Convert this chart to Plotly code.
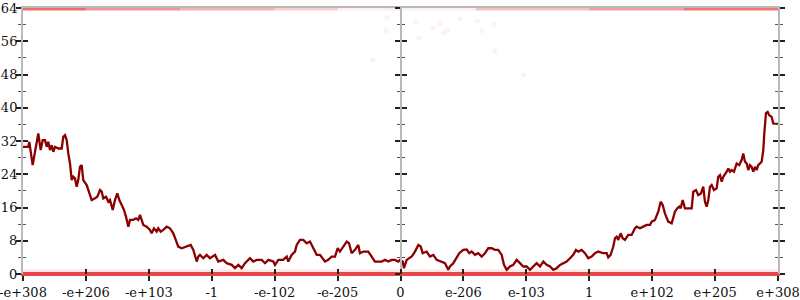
import plotly.graph_objects as go

# ---- data -------------------------------------------------------------
x_labels = ["-e+308", "-e+206", "-e+103", "-1", "-e-102", "-e-205", "0",
            "e-206", "e-103", "1", "e+102", "e+205", "e+308"]
x_ticks = list(range(len(x_labels)))
y_ticks = [0, 8, 16, 24, 32, 40, 48, 56, 64]

series_x = [
    0.0, 0.084, 0.100, 0.127, 0.154, 0.191, 0.218, 0.243, 0.281, 0.313, 0.350, 0.377,
    0.402, 0.429, 0.456, 0.482, 0.509, 0.561, 0.615, 0.640, 0.668, 0.695, 0.720, 0.747,
    0.774, 0.799, 0.826, 0.853, 0.878, 0.906, 0.933, 0.958, 1.012, 1.038, 1.092, 1.144,
    1.181, 1.224, 1.251, 1.276, 1.319, 1.356, 1.383, 1.426, 1.462, 1.499, 1.531, 1.569,
    1.605, 1.637, 1.674, 1.701, 1.753, 1.796, 1.832, 1.859, 1.887, 1.912, 1.966, 2.018,
    2.045, 2.082, 2.125, 2.150, 2.188, 2.230, 2.284, 2.336, 2.389, 2.416, 2.468, 2.522,
    2.602, 2.665, 2.707, 2.734, 2.761, 2.786,
    2.813, 2.866, 2.920, 2.972, 3.052, 3.104, 3.183, 3.237, 3.317, 3.369, 3.422, 3.476,
    3.528, 3.608, 3.660, 3.714, 3.794, 3.846, 3.899, 3.978, 4.005, 4.058, 4.137, 4.191,
    4.216, 4.270, 4.323, 4.350, 4.402, 4.455, 4.509, 4.561, 4.614, 4.668, 4.720, 4.800,
    4.852, 4.906, 4.959, 5.002, 5.038, 5.091, 5.145, 5.181, 5.224, 5.276, 5.329, 5.356,
    5.408, 5.488, 5.542, 5.594, 5.701, 5.753, 5.806, 5.860, 5.912, 5.965,
    5.992, 6.035, 6.055, 6.098, 6.178, 6.230, 6.283, 6.321, 6.353, 6.416, 6.468, 6.521,
    6.575, 6.655, 6.707, 6.759, 6.786, 6.839, 6.893, 6.934, 6.998, 7.052, 7.093, 7.131,
    7.184, 7.236, 7.290, 7.343, 7.395, 7.449, 7.502, 7.554, 7.608, 7.645, 7.688, 7.740,
    7.792, 7.846, 7.899, 7.951, 8.005, 8.058, 8.110, 8.164, 8.217, 8.269, 8.323, 8.376,
    8.428, 8.482, 8.535, 8.587, 8.641, 8.694, 8.746, 8.789, 8.825, 8.879, 8.932, 8.984,
    9.038, 9.091, 9.143,
    9.223, 9.277, 9.302, 9.340, 9.382, 9.409, 9.436, 9.461, 9.499, 9.531, 9.568, 9.620,
    9.674, 9.727, 9.754, 9.806, 9.858, 9.912, 9.965, 9.992, 10.044, 10.071, 10.097, 10.135,
    10.167, 10.203, 10.256, 10.310, 10.362, 10.399, 10.431, 10.453, 10.485, 10.521, 10.574,
    10.628, 10.653, 10.696, 10.733, 10.776, 10.812, 10.839, 10.866, 10.892, 10.919, 10.945,
    10.982, 11.025, 11.050, 11.078, 11.105, 11.130, 11.184, 11.210, 11.237, 11.263, 11.300,
    11.343, 11.384, 11.422, 11.448, 11.475, 11.502, 11.528, 11.554, 11.581, 11.607, 11.634,
    11.661, 11.686, 11.740, 11.766, 11.782, 11.809, 11.836, 11.861, 11.899, 11.925, 11.979,
    12.0,
]
series_y = [
    30.6, 30.6, 31.8, 29.0, 26.2, 29.4, 31.4, 33.8, 29.8, 32.2, 32.2, 30.6,
    31.8, 29.8, 31.0, 29.4, 30.6, 30.2, 30.2, 33.0, 33.4, 32.2, 29.0, 26.6,
    22.6, 23.4, 23.0, 21.0, 22.6, 25.8, 26.2, 22.6, 21.4, 20.2, 17.8, 18.2,
    18.6, 20.2, 19.8, 18.2, 18.6, 17.4, 17.8, 15.4, 17.8, 19.4, 17.8, 16.6,
    15.4, 13.8, 11.4, 13.0, 13.0, 13.4, 13.0, 14.2, 12.6, 11.8, 11.4, 10.6,
    9.8, 11.0, 10.2, 11.0, 10.2, 10.6, 11.4, 11.0, 9.8, 8.6, 6.6, 6.2,
    6.6, 7.0, 5.8, 4.6, 3.0, 4.2,
    4.6, 3.8, 4.6, 3.8, 4.6, 3.0, 3.4, 2.6, 2.2, 1.4, 2.2, 1.4,
    2.6, 3.8, 3.0, 3.4, 3.4, 2.6, 3.4, 3.0, 2.2, 3.4, 3.4, 4.2,
    3.0, 4.6, 5.4, 7.0, 8.2, 8.2, 7.4, 7.8, 6.2, 4.6, 4.6, 3.0,
    3.4, 4.2, 4.2, 6.2, 5.4, 6.6, 7.8, 7.4, 5.0, 5.8, 7.0, 5.0,
    5.4, 5.4, 4.2, 3.0, 3.0, 3.4, 3.0, 3.4, 3.4, 3.0,
    3.4, 3.0, 1.4, 3.4, 4.2, 5.4, 7.0, 6.6, 5.0, 5.4, 4.2, 4.6,
    3.4, 3.0, 2.6, 1.0, 1.8, 2.6, 3.8, 5.0, 5.8, 5.9, 5.0, 5.4,
    4.6, 5.0, 4.2, 5.0, 6.2, 6.2, 5.8, 5.8, 4.6, 2.2, 1.0, 1.8,
    2.2, 3.4, 2.6, 1.8, 1.8, 1.0, 1.8, 2.6, 1.8, 3.0, 2.2, 1.8,
    1.0, 1.4, 2.2, 2.6, 3.0, 3.8, 4.6, 5.8, 5.4, 5.8, 5.0, 3.8,
    4.2, 5.0, 5.4,
    5.0, 5.0, 4.0, 4.6, 6.6, 8.6, 9.0, 8.2, 9.8, 8.6, 8.2, 9.4,
    9.4, 11.0, 11.4, 11.0, 11.4, 11.8, 11.8, 12.6, 13.0, 14.2, 15.0, 17.4,
    16.6, 14.6, 12.6, 12.2, 15.0, 15.8, 16.2, 15.8, 17.8, 15.8, 15.8,
    15.8, 19.8, 20.2, 19.0, 19.4, 21.0, 17.4, 16.2, 17.8, 21.0, 21.4,
    20.2, 20.6, 23.4, 23.8, 22.2, 23.4, 24.6, 25.4, 24.6, 25.0, 24.6,
    26.6, 26.2, 27.4, 29.0, 27.0, 26.6, 25.0, 26.2, 25.8, 24.6, 25.8,
    25.0, 26.2, 27.0, 29.8, 33.8, 38.7, 39.0, 38.2, 37.8, 36.2, 36.1,
    36.1,
]

# faint scattered points near the top
top_dots_x = [5.56, 5.77, 5.785, 6.23, 6.29, 6.52, 6.63, 6.68, 6.74, 6.94, 7.22, 7.29, 7.49, 7.50, 7.95]
top_dots_y = [51.5, 58.5, 61.8, 60.6, 56.8, 59.2, 60.2, 58.0, 58.5, 61.4, 60.9, 58.5, 59.9, 53.7, 47.9]

# density bands along the floor (0) and ceiling (64)
floor_level = 0
ceiling_level = 64
ceiling_seg_x = [0, 1, 2.5, 4, 5, 7.2, 9, 10.5, 12]
ceiling_seg_alpha = [0.72, 0.52, 0.38, 0.24, 0.08, 0.3, 0.48, 0.68]

# ---- figure -----------------------------------------------------------
FONT = dict(family="DejaVu Serif", size=13, color="#111")
AXIS_GRAY = "#b9b9b9"
TICK_DARK = "#222"

fig = go.Figure()

# ceiling band segments
for i, a in enumerate(ceiling_seg_alpha):
    fig.add_trace(go.Scatter(
        x=[ceiling_seg_x[i], ceiling_seg_x[i + 1]], y=[ceiling_level, ceiling_level],
        mode="lines", line=dict(color=f"rgba(232,50,50,{a})", width=5),
        showlegend=False, hoverinfo="skip"))

# floor band
fig.add_trace(go.Scatter(
    x=[x_ticks[0], x_ticks[-1]], y=[floor_level + 0.8, floor_level + 0.8],
    mode="lines", line=dict(color="rgba(240,110,110,0.16)", width=3),
    showlegend=False, hoverinfo="skip"))
fig.add_trace(go.Scatter(
    x=[x_ticks[0], x_ticks[-1]], y=[floor_level, floor_level],
    mode="lines", line=dict(color="rgba(225,40,40,0.85)", width=4),
    showlegend=False, hoverinfo="skip"))

fig.add_trace(go.Scatter(
    x=top_dots_x, y=top_dots_y, mode="markers",
    marker=dict(size=5, color="rgba(240,80,80,0.08)"),
    showlegend=False, hoverinfo="skip"))

fig.add_trace(go.Scatter(
    x=series_x, y=series_y, mode="lines",
    line=dict(color="#8b0000", width=2.3),
    showlegend=False))

# empty traces so every overlay axis is drawn
for xa, ya in [("x2", "y"), ("x3", "y"), ("x", "y2"), ("x", "y3"),
               ("x", "y4"), ("x", "y5"), ("x", "y6")]:
    fig.add_trace(go.Scatter(x=[None], y=[None], xaxis=xa, yaxis=ya,
                             showlegend=False, hoverinfo="skip"))

XR = [x_ticks[0], x_ticks[-1]]
YR = [y_ticks[0], y_ticks[-1]]


def yax(ticks, minor_ticks, **kw):
    d = dict(range=YR, tickvals=y_ticks, ticks=ticks, ticklen=5, tickwidth=1.5,
             tickcolor=TICK_DARK, showgrid=False, zeroline=False, automargin=False,
             showline=True, linecolor=AXIS_GRAY, linewidth=2,
             ticklabeloverflow="allow",
             minor=dict(dtick=4, tick0=0, ticks=minor_ticks, ticklen=3,
                        tickwidth=1, tickcolor="#555", showgrid=False),
             fixedrange=True)
    d.update(kw)
    return d


fig.update_layout(
    template="none",
    width=800, height=300, autosize=False,
    margin=dict(l=23, r=22, t=8, b=26, pad=0),
    paper_bgcolor="white", plot_bgcolor="white",
    font=FONT,
    xaxis=dict(range=XR, tickvals=x_ticks, ticktext=x_labels, ticks="outside",
               ticklen=5, tickwidth=1.5, tickcolor=TICK_DARK, showgrid=False,
               zeroline=False, showline=True, linecolor="rgba(225,40,40,0.85)",
               linewidth=2, tickfont=FONT, fixedrange=True, automargin=False,
               ticklabeloverflow="allow"),
    xaxis2=dict(range=XR, overlaying="x", side="top", showline=True,
                linecolor=AXIS_GRAY, linewidth=1.5, ticks="", showticklabels=False,
                showgrid=False, zeroline=False, fixedrange=True, automargin=False),
    xaxis3=dict(range=XR, overlaying="x", side="bottom", tickvals=x_ticks,
                ticks="inside", ticklen=5, tickwidth=1.5, tickcolor=TICK_DARK,
                showticklabels=False, showline=False, showgrid=False,
                zeroline=False, fixedrange=True, automargin=False),
    yaxis=yax("outside", "outside", tickfont=FONT, ticklabelstandoff=-4),
    yaxis2=yax("inside", "inside", overlaying="y", showticklabels=False),
    yaxis3=yax("outside", "outside", overlaying="y", anchor="free", position=0.5,
               showticklabels=False),
    yaxis4=yax("inside", "inside", overlaying="y", anchor="free", position=0.5,
               showticklabels=False),
    yaxis5=yax("outside", "outside", overlaying="y", side="right", anchor="x",
               showticklabels=False),
    yaxis6=yax("inside", "inside", overlaying="y", side="right", anchor="x",
               showticklabels=False),
)

fig.write_html("out.html")
